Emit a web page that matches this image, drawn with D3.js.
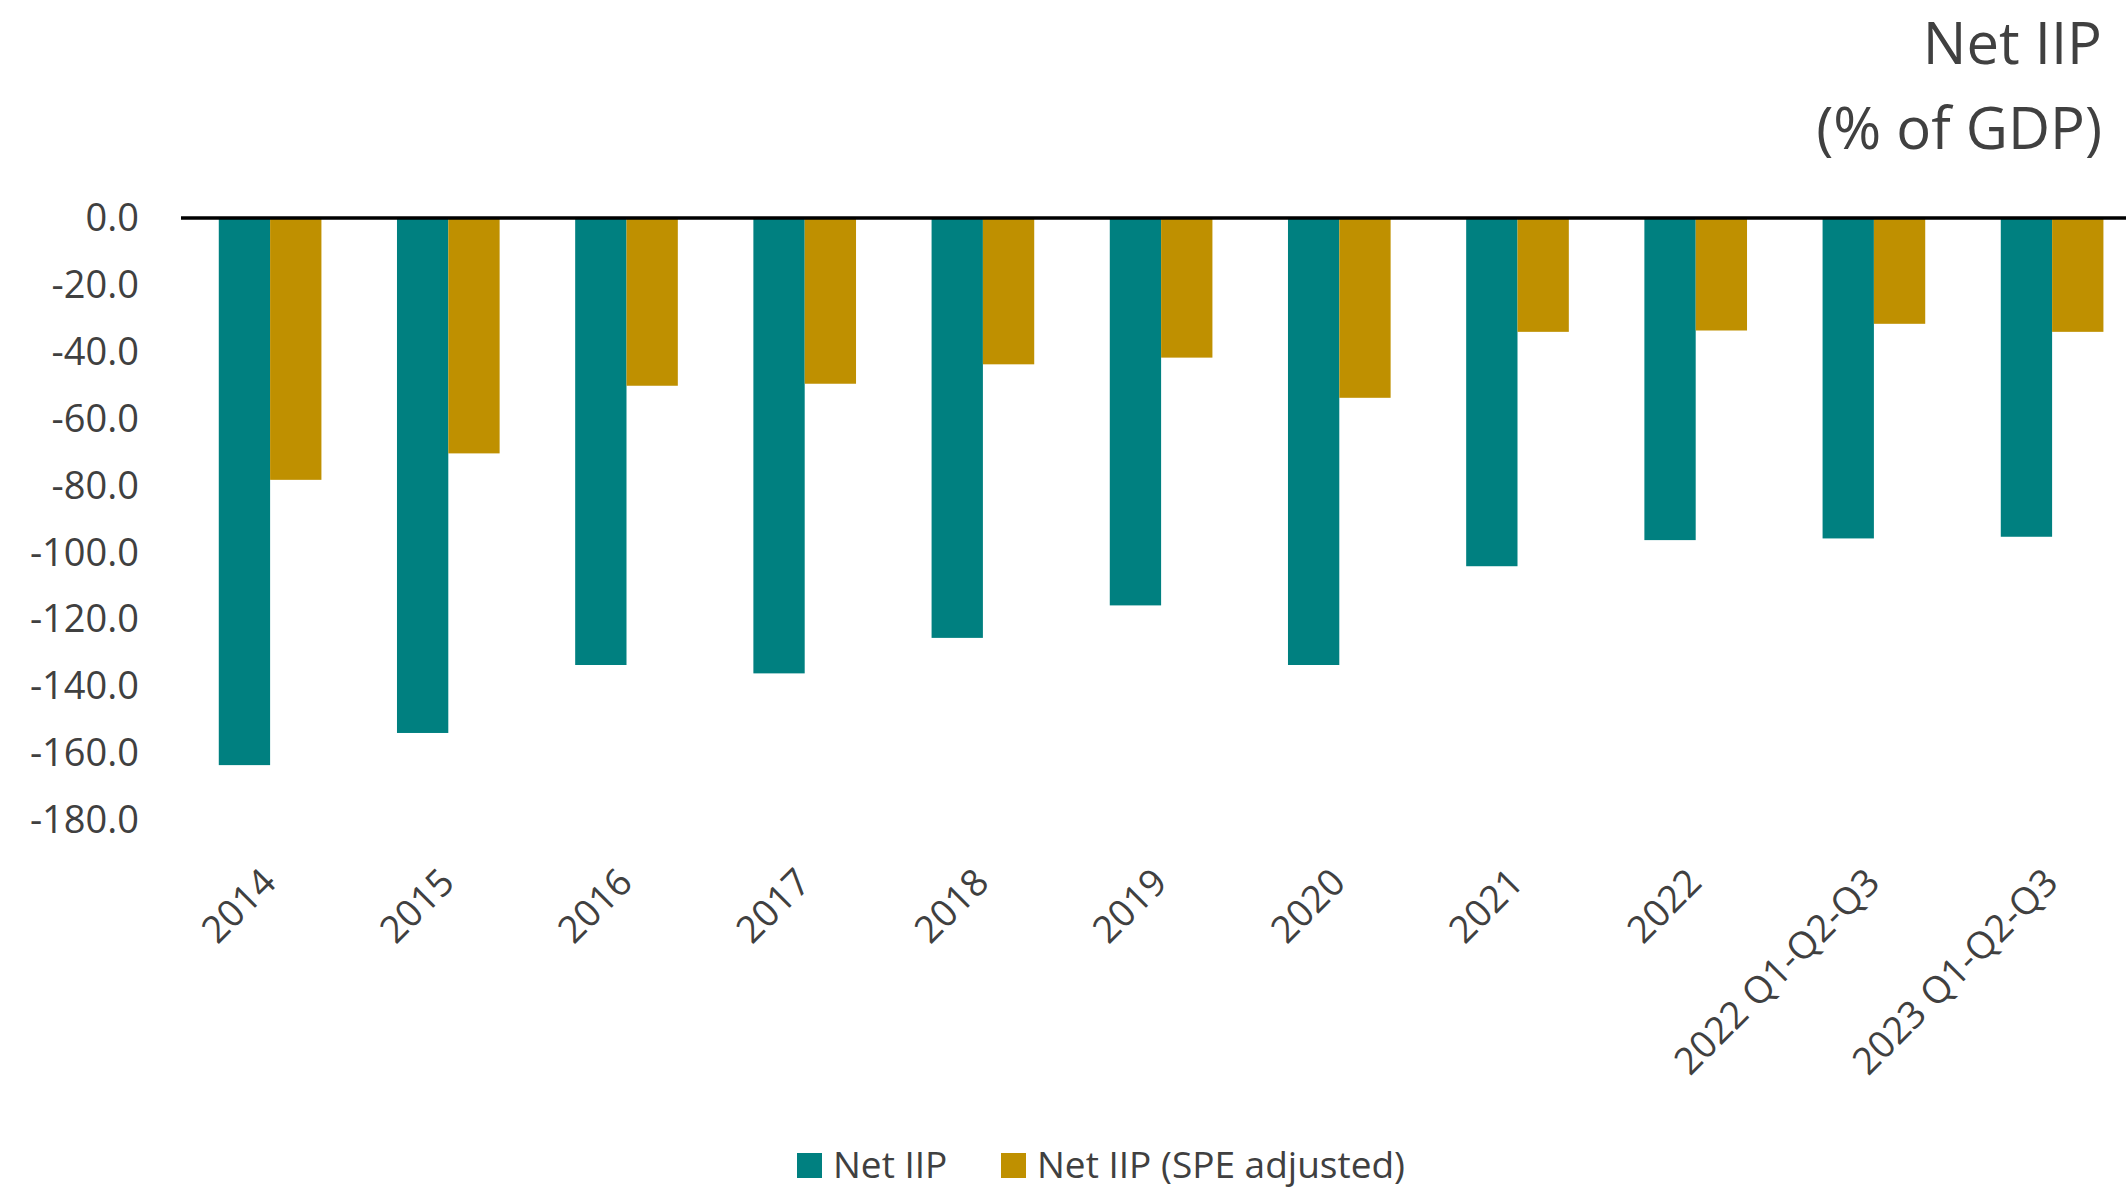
<!DOCTYPE html>
<html>
<head>
<meta charset="utf-8">
<script src="https://cdn.jsdelivr.net/npm/d3@7"></script>
<style>
  html, body { margin: 0; padding: 0; background: #ffffff; }
  svg { display: block; }
  text { font-family: "Open Sans", "Noto Sans", sans-serif; fill: #404040; }
</style>
</head>
<body>
<svg id="chart" width="2126" height="1191"></svg>
<script>
const categories = ["2014", "2015", "2016", "2017", "2018", "2019", "2020", "2021", "2022", "2022 Q1-Q2-Q3", "2023 Q1-Q2-Q3"];
const netIIP = [-163.4, -153.8, -133.5, -136.0, -125.4, -115.7, -133.5, -104.0, -96.2, -95.7, -95.2];
const netIIPSpe = [-78.2, -70.3, -50.1, -49.5, -43.7, -41.7, -53.7, -34.0, -33.6, -31.6, -34.0];
const seriesNames = ["Net IIP", "Net IIP (SPE adjusted)"];
const seriesColors = ["#008080", "#BF9000"];
const yTicks = [0, -20, -40, -60, -80, -100, -120, -140, -160, -180];
const titleLines = ["Net IIP", "(% of GDP)"];

const W = 2126, H = 1191;
const plotLeft = 181, step = 178.2;
const plotRight = plotLeft + categories.length * step;
const plotTop = 218, plotBottom = 820.7;

const svg = d3.select("#chart");
svg.append("rect").attr("width", W).attr("height", H).attr("fill", "#ffffff");

const x = d3.scaleBand().domain(categories).range([plotLeft, plotRight])
  .paddingInner(0.424).paddingOuter(0.212);
const xs = d3.scaleBand().domain(seriesNames).range([0, x.bandwidth()]).padding(0);
const y = d3.scaleLinear().domain([-180, 0]).range([plotBottom, plotTop]);

const rows = categories.map((c, i) => ({cat: c, vals: [netIIP[i], netIIPSpe[i]]}));

const groups = svg.append("g").selectAll("g").data(rows).join("g")
  .attr("transform", d => `translate(${x(d.cat)},0)`);
groups.selectAll("rect").data(d => d.vals.map((v, j) => ({v, s: seriesNames[j], c: seriesColors[j]})))
  .join("rect")
  .attr("x", d => xs(d.s))
  .attr("width", xs.bandwidth())
  .attr("y", d => y(Math.max(0, d.v)))
  .attr("height", d => Math.abs(y(d.v) - y(0)))
  .attr("fill", d => d.c);

// zero line
svg.append("line")
  .attr("x1", plotLeft).attr("x2", W)
  .attr("y1", y(0)).attr("y2", y(0))
  .attr("stroke", "#000000").attr("stroke-width", 3.5);

// y axis
const yAxis = d3.axisLeft(y).tickValues(yTicks).tickFormat(d => d.toFixed(1))
  .tickSize(0).tickPadding(42);
const ya = svg.append("g").attr("transform", `translate(${plotLeft},0)`).call(yAxis);
ya.select(".domain").remove();
ya.selectAll("text").attr("font-size", 38).style("font-family", "'Open Sans', sans-serif").attr("fill", "#404040");

// x labels
const xa = svg.append("g");
xa.selectAll("text").data(categories).join("text")
  .attr("transform", d => `translate(${x(d) + x.bandwidth() / 2 + 8},${plotBottom + 64}) rotate(-45)`)
  .attr("text-anchor", "end")
  .attr("font-size", 37.5)
  .text(d => d);

// title
const title = svg.append("text").attr("text-anchor", "end").attr("font-size", 58);
title.selectAll("tspan").data(titleLines).join("tspan")
  .attr("x", 2102)
  .attr("y", (d, i) => [64, 149][i])
  .text(d => d);

// legend
const legendItems = [
  {name: seriesNames[0], color: seriesColors[0], x: 797},
  {name: seriesNames[1], color: seriesColors[1], x: 1001}
];
const lg = svg.append("g");
const li = lg.selectAll("g").data(legendItems).join("g")
  .attr("transform", d => `translate(${d.x},0)`);
li.append("rect").attr("x", 0).attr("y", 1153).attr("width", 25).attr("height", 25)
  .attr("fill", d => d.color);
li.append("text").attr("x", 36).attr("y", 1177.5).attr("font-size", 37).text(d => d.name);
</script>
</body>
</html>
